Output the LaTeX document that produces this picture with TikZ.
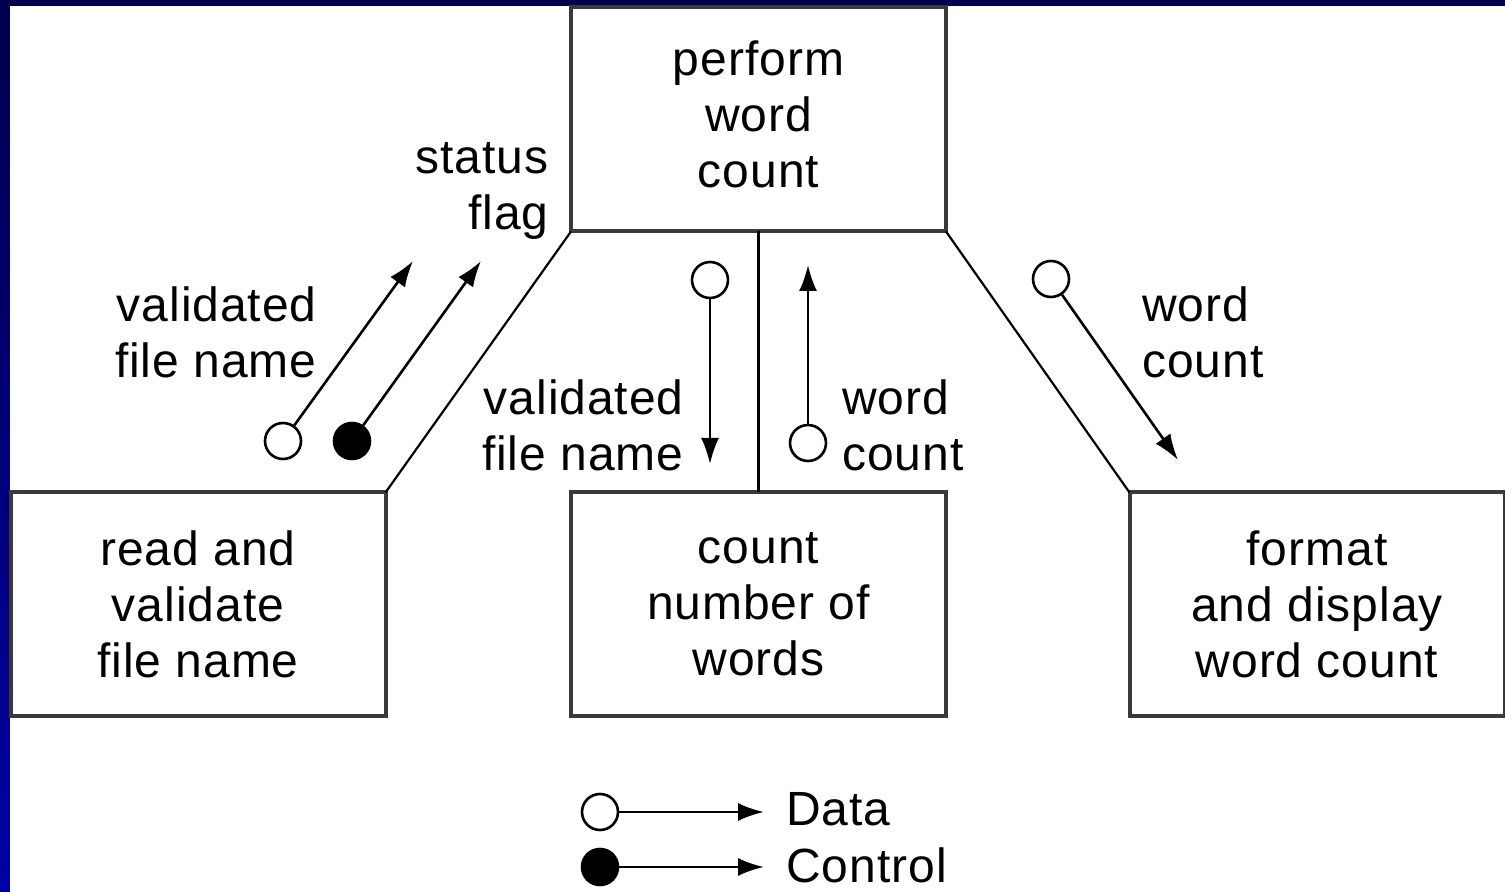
\documentclass[tikz,border=0pt]{standalone}
\usepackage{fontspec}
\setmainfont[LetterSpace=2]{Liberation Sans}
\usetikzlibrary{arrows.meta}
\definecolor{slidenavy}{HTML}{00004C}
\definecolor{slideblue}{HTML}{0000A4}
\definecolor{boxgray}{HTML}{3A3A3A}

\begin{document}
\begin{tikzpicture}[x=0.5pt,y=-0.5pt,
    every node/.style={font=\fontsize{24}{28}\selectfont},
    module/.style={draw=boxgray,line width=2pt,fill=white,minimum width=187.5pt,minimum height=112pt,align=center,inner sep=0pt,outer sep=0pt},
    couple/.style={line width=1.3pt,-{Latex[length=13pt,width=9pt]}},
    datadot/.style={circle,draw,line width=1.3pt,fill=white,minimum size=18pt,inner sep=0pt},
    ctrldot/.style={datadot,fill=black},
    tag/.style={inner sep=0pt}]
  % slide background
  \shade[top color=slidenavy,bottom color=slideblue] (0,0) rectangle (1505,892);
  \fill[white] (10,6) rectangle (1505,892);
  \useasboundingbox (0,0) rectangle (1505,892);

  % modules
  \node[module] (perform) at (758.5,119.5) {perform\\word\\count\vphantom{y}};
  \node[module] (readfile) at (198,604.5) {read and\\validate\\file name};
  \node[module] (countwords) at (758.5,604.5) {count\\number of\\words};
  \node[module] (display) at (1317,604.5) {format\\and display\\word count};

  % calls
  \draw[line width=1.1pt] (perform.south west) -- (readfile.north east);
  \draw[line width=1.1pt] (perform.south) -- (countwords.north);
  \draw[line width=1.1pt] (perform.south east) -- (display.north west);

  % couples to and from readfile
  \node[datadot] (vfnup) at (283,441) {};
  \coordinate (vfnupend) at (413,261);
  \draw[couple] (vfnup) -- (vfnupend);
  \node[ctrldot] (flagup) at (352,441) {};
  \coordinate (flagupend) at (481,261);
  \draw[couple] (flagup) -- (flagupend);
  \node[tag,align=right,anchor=east] (vfnuplbl) at (317,332) {validated\\file name};
  \node[tag,align=right,anchor=east] (flaglbl) at (549,191) {status\\flag};

  % couples to and from countwords
  \node[datadot] (vfndown) at (710,280) {};
  \coordinate (vfndownend) at (710,464);
  \draw[couple] (vfndown) -- (vfndownend);
  \node[datadot] (wcup) at (808,443) {};
  \coordinate (wcupend) at (808,265);
  \draw[couple] (wcup) -- (wcupend);
  \node[tag,align=right,anchor=east] (vfndownlbl) at (684,425) {validated\\file name};
  \node[tag,align=left,anchor=west] (wcuplbl) at (842,425) {word\\count};

  % couple to display
  \node[datadot] (wcdown) at (1051,279) {};
  \coordinate (wcdownend) at (1178,460);
  \draw[couple] (wcdown) -- (wcdownend);
  \node[tag,align=left,anchor=west] (wcdownlbl) at (1142,332) {word\\count};

  % key
  \node[datadot] (keydata) at (600,812) {};
  \coordinate (keydataend) at (764,812);
  \draw[couple] (keydata) -- (keydataend);
  \node[tag,anchor=west] (keydatalbl) at (786,809) {Data};
  \node[ctrldot] (keyctrl) at (600,867) {};
  \coordinate (keyctrlend) at (764,867);
  \draw[couple] (keyctrl) -- (keyctrlend);
  \node[tag,anchor=west] (keyctrllbl) at (786,865) {Control};
\end{tikzpicture}
\end{document}
